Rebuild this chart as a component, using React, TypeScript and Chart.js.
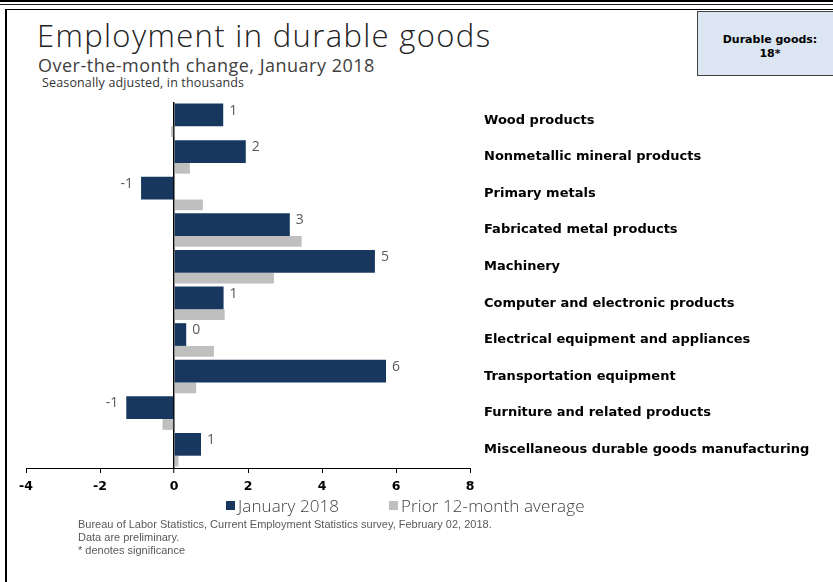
import React, { useEffect, useRef } from 'react';
import { Chart, registerables } from 'chart.js';

Chart.register(...registerables);

const categories = [
  'Wood products',
  'Nonmetallic mineral products',
  'Primary metals',
  'Fabricated metal products',
  'Machinery',
  'Computer and electronic products',
  'Electrical equipment and appliances',
  'Transportation equipment',
  'Furniture and related products',
  'Miscellaneous durable goods manufacturing',
];
const january2018 = [1.33, 1.94, -0.89, 3.13, 5.43, 1.34, 0.33, 5.73, -1.29, 0.73];
const prior12MonthAvg = [-0.08, 0.43, 0.78, 3.45, 2.7, 1.37, 1.08, 0.6, -0.31, 0.12];
const xTicks = [-4, -2, 0, 2, 4, 6, 8];
const seriesNames = ['January 2018', 'Prior 12-month average'];
const seriesColors = ['#17375e', '#bfbfbf'];

const LIGHT = "'Open Sans', 'Lato', sans-serif";
const BOLD = "'DejaVu Sans', Verdana, sans-serif";
const NARROW = "'Liberation Sans Narrow', 'Liberation Sans', sans-serif";

const valueLabels = {
  id: 'valueLabels',
  afterDatasetsDraw(chart: any) {
    const ctx = chart.ctx;
    const meta = chart.getDatasetMeta(0);
    ctx.save();
    ctx.font = "400 14px 'Open Sans', sans-serif";
    ctx.fillStyle = '#595959';
    ctx.textBaseline = 'middle';
    meta.data.forEach((bar: any, i: number) => {
      const v = january2018[i];
      const y = bar.y - bar.height / 2 + 7;
      const txt = String(Math.round(v));
      if (v >= 0) {
        ctx.textAlign = 'left';
        ctx.fillText(txt, bar.x + 6, y);
      } else {
        ctx.textAlign = 'right';
        ctx.fillText(txt, bar.x - 8, y);
      }
    });
    ctx.restore();
  },
};

export default function App() {
  const ref = useRef<HTMLCanvasElement | null>(null);

  useEffect(() => {
    if (!ref.current) return;
    const chart = new Chart(ref.current, {
      type: 'bar',
      data: {
        labels: categories,
        datasets: [
          {
            label: seriesNames[0],
            data: january2018,
            backgroundColor: seriesColors[0],
            borderWidth: 0,
            categoryPercentage: 0.586,
            barPercentage: 2.12,
          },
          {
            label: seriesNames[1],
            data: prior12MonthAvg,
            backgroundColor: seriesColors[1],
            borderWidth: 0,
            categoryPercentage: 1.244,
            barPercentage: 0.471,
          },
        ] as any,
      },
      options: {
        indexAxis: 'y',
        responsive: false,
        animation: false,
        devicePixelRatio: 1,
        layout: { padding: { left: 26, right: 0, top: 12, bottom: 0 } },
        plugins: {
          legend: { display: false },
          tooltip: { enabled: false },
          title: { display: false },
        },
        scales: {
          x: {
            type: 'linear',
            min: xTicks[0],
            max: xTicks[xTicks.length - 1],
            afterBuildTicks: (s: any) => {
              s.ticks = xTicks.map((v) => ({ value: v }));
            },
            afterFit: (s: any) => {
              s.height = 32;
            },
            border: { display: true, color: '#000', width: 1 },
            grid: {
              display: true,
              drawOnChartArea: true,
              drawTicks: true,
              tickLength: 5,
              tickColor: '#000',
              tickWidth: 1,
              color: (c: any) => (c.tick && c.tick.value === 0 ? '#000' : 'rgba(0,0,0,0)'),
              lineWidth: (c: any) => (c.tick && c.tick.value === 0 ? 1.5 : 1),
            },
            ticks: {
              color: '#000',
              padding: 6,
              font: { family: BOLD, weight: 'bold', size: 12.5 },
            },
          },
          y: {
            type: 'category',
            position: 'right',
            afterFit: (s: any) => {
              s.width = 342;
              s.paddingTop = 0;
              s.paddingBottom = 0;
            },
            border: { display: false },
            grid: { display: false, drawTicks: false },
            ticks: {
              color: '#000',
              padding: 14,
              autoSkip: false,
              font: { family: BOLD, weight: 'bold', size: 13 },
            },
          },
        },
      } as any,
      plugins: [valueLabels],
    });
    return () => chart.destroy();
  }, []);

  return (
    <div
      style={{
        position: 'absolute',
        left: 0,
        top: 0,
        width: 833,
        height: 582,
        overflow: 'hidden',
        background: '#fff',
      }}
    >
      <div style={{ position: 'absolute', left: 0, top: 0, width: 833, height: 2, background: '#000' }} />
      <div style={{ position: 'absolute', left: 0, top: 4, width: 833, height: 1, background: '#222' }} />
      <div
        style={{
          position: 'absolute',
          left: 5,
          top: 9,
          width: 850,
          height: 600,
          borderLeft: '2px solid #000',
          borderTop: '1px solid #000',
        }}
      />
      <div
        style={{
          position: 'absolute',
          left: 37,
          top: 20,
          fontFamily: LIGHT,
          fontWeight: 300,
          fontSize: 31,
          lineHeight: '31px',
          letterSpacing: 1.35,
          color: '#222',
          whiteSpace: 'nowrap',
        }}
      >
        Employment in durable goods
      </div>
      <div
        style={{
          position: 'absolute',
          left: 38,
          top: 56,
          fontFamily: LIGHT,
          fontWeight: 400,
          fontSize: 18,
          lineHeight: '18px',
          letterSpacing: 0.5,
          color: '#404040',
          whiteSpace: 'nowrap',
        }}
      >
        Over-the-month change, January 2018
      </div>
      <div
        style={{
          position: 'absolute',
          left: 42,
          top: 77,
          fontFamily: LIGHT,
          fontWeight: 400,
          fontSize: 12.5,
          lineHeight: '12px',
          letterSpacing: 0.15,
          color: '#333',
          whiteSpace: 'nowrap',
        }}
      >
        Seasonally adjusted, in thousands
      </div>
      <div
        style={{
          position: 'absolute',
          left: 697,
          top: 11,
          width: 146,
          height: 65,
          background: '#dce6f2',
          border: '1px solid #404040',
          boxSizing: 'border-box',
          paddingTop: 21,
          textAlign: 'center',
          fontFamily: BOLD,
          fontWeight: 'bold',
          fontSize: 11,
          lineHeight: '14px',
          color: '#000',
        }}
      >
        Durable goods:
        <br />
        18*
      </div>
      <canvas
        ref={ref}
        width={812}
        height={410}
        style={{ position: 'absolute', left: 0, top: 90, width: 812, height: 410 }}
      />
      {seriesNames.map((name, i) => (
        <div
          key={name}
          style={{
            position: 'absolute',
            left: i === 0 ? 226 : 389,
            top: 495,
            height: 20,
            display: 'flex',
            alignItems: 'center',
            whiteSpace: 'nowrap',
          }}
        >
          <span style={{ display: 'inline-block', width: 9, height: 9, background: seriesColors[i], marginRight: 3 }} />
          <span style={{ fontFamily: LIGHT, fontWeight: 300, fontSize: 17, letterSpacing: 0.1, color: '#404040' }}>
            {name}
          </span>
        </div>
      ))}
      <div
        style={{
          position: 'absolute',
          left: 78,
          top: 518,
          fontFamily: NARROW,
          fontSize: 11,
          lineHeight: '13px',
          color: '#595959',
          whiteSpace: 'nowrap',
        }}
      >
        Bureau of Labor Statistics, Current Employment Statistics survey, February 02, 2018.
        <br />
        Data are preliminary.
        <br />* denotes significance
      </div>
    </div>
  );
}
